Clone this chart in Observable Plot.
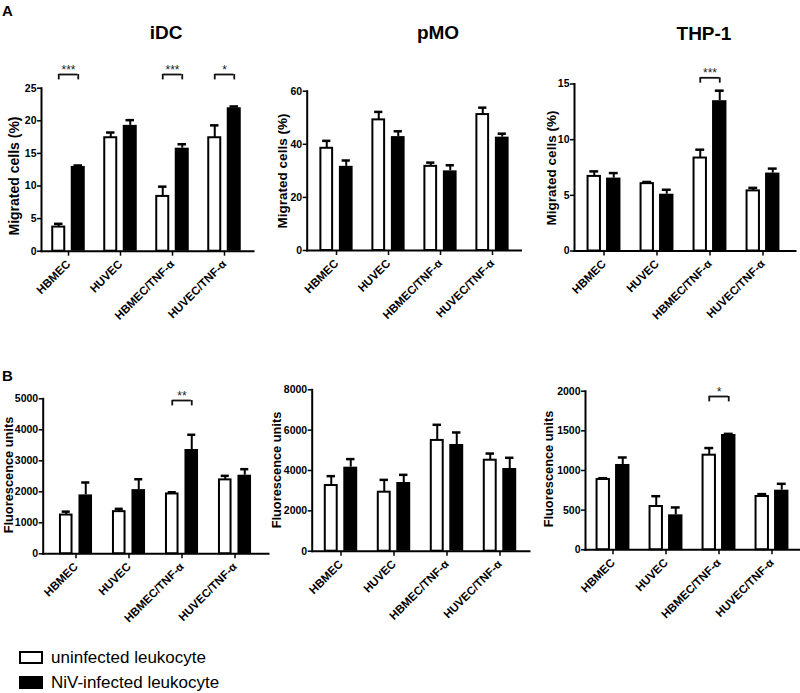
<!DOCTYPE html>
<html><head><meta charset="utf-8">
<script src="https://cdn.jsdelivr.net/npm/d3@7"></script>
<script src="https://cdn.jsdelivr.net/npm/@observablehq/plot@0.6"></script>
<style>
html,body{margin:0;padding:0;background:#fff;overflow:hidden;}
#fig{position:relative;width:800px;height:693px;font-family:"Liberation Sans",Arial,sans-serif;color:#000;}
.abs{position:absolute;white-space:nowrap;line-height:1;}
.center{transform:translate(-50%,-50%);}
.title{font-weight:bold;font-size:19px;}
.letter{font-weight:bold;font-size:15px;}
.ylab{font-weight:bold;transform:translate(-50%,-50%) rotate(-90deg);}
.legend-row{position:absolute;left:19px;display:flex;align-items:center;font-size:17px;line-height:1;}
.swatch{box-sizing:border-box;width:24px;height:13px;border:2px solid #000;margin-right:8px;}
</style></head><body><div id="fig"></div>
<script>
// ---------- data ----------
const categories = ["HBMEC", "HUVEC", "HBMEC/TNF-α", "HUVEC/TNF-α"];
const seriesNames = ["uninfected leukocyte", "NiV-infected leukocyte"];

// A: migrated cells (%)
const iDC_migr_uninf = [3.7, 17.4, 8.4, 17.4];
const iDC_migr_uninfErr = [0.5, 0.8, 1.5, 1.9];
const iDC_migr_niv = [13.0, 19.3, 15.8, 22.0];
const iDC_migr_nivErr = [0.15, 0.8, 0.6, 0.2];
const iDC_migr_ticks = [0, 5, 10, 15, 20, 25];
const iDC_migr_sigCats = ["HBMEC", "HBMEC/TNF-α", "HUVEC/TNF-α"];
const iDC_migr_sigLabels = ["***", "***", "*"];

const pMO_migr_uninf = [38.5, 49.2, 31.7, 51.2];
const pMO_migr_uninfErr = [2.8, 3.0, 1.4, 2.6];
const pMO_migr_niv = [31.7, 42.9, 30.0, 42.7];
const pMO_migr_nivErr = [2.2, 2.0, 2.1, 1.3];
const pMO_migr_ticks = [0, 20, 40, 60];
const pMO_migr_sigCats = [];
const pMO_migr_sigLabels = [];

const THP1_migr_uninf = [6.7, 6.05, 8.35, 5.4];
const THP1_migr_uninfErr = [0.45, 0.15, 0.75, 0.27];
const THP1_migr_niv = [6.55, 5.1, 13.5, 7.0];
const THP1_migr_nivErr = [0.45, 0.4, 0.9, 0.4];
const THP1_migr_ticks = [0, 5, 10, 15];
const THP1_migr_sigCats = ["HBMEC/TNF-α"];
const THP1_migr_sigLabels = ["***"];

// B: fluorescence units
const iDC_fluo_uninf = [1250, 1360, 1930, 2385];
const iDC_fluo_uninfErr = [110, 90, 55, 130];
const iDC_fluo_niv = [1900, 2070, 3365, 2535];
const iDC_fluo_nivErr = [400, 335, 475, 195];
const iDC_fluo_ticks = [0, 1000, 2000, 3000, 4000, 5000];
const iDC_fluo_sigCats = ["HBMEC/TNF-α"];
const iDC_fluo_sigLabels = ["**"];

const pMO_fluo_uninf = [3255, 2925, 5490, 4510];
const pMO_fluo_uninfErr = [465, 610, 775, 330];
const pMO_fluo_niv = [4165, 3405, 5290, 4100];
const pMO_fluo_nivErr = [400, 380, 595, 530];
const pMO_fluo_ticks = [0, 2000, 4000, 6000, 8000];
const pMO_fluo_sigCats = [];
const pMO_fluo_sigLabels = [];

const THP1_fluo_uninf = [887, 546, 1193, 672];
const THP1_fluo_uninfErr = [16, 130, 90, 30];
const THP1_fluo_niv = [1076, 441, 1454, 752];
const THP1_fluo_nivErr = [88, 93, 8, 80];
const THP1_fluo_ticks = [0, 500, 1000, 1500, 2000];
const THP1_fluo_sigCats = ["HBMEC/TNF-α"];
const THP1_fluo_sigLabels = ["*"];

const titles = ["iDC", "pMO", "THP-1"];
const yLabelA = "Migrated cells (%)";
const yLabelB = "Fluorescence units";

// ---------- layout (pixels) ----------
const panels = [
  {u: iDC_migr_uninf, ue: iDC_migr_uninfErr, n: iDC_migr_niv, ne: iDC_migr_nivErr, ticks: iDC_migr_ticks,
   sigCats: iDC_migr_sigCats, sigLabels: iDC_migr_sigLabels, label: yLabelA, labelSize: 14,
   frame: {l: 41, r: 253, t: 87.7, b: 250.7}, inset: [0, 2], svg: {l: 0, r: 256, t: 55, b: 345},
   labelPos: [14, 176], bracketPx: -13.7},
  {u: pMO_migr_uninf, ue: pMO_migr_uninfErr, n: pMO_migr_niv, ne: pMO_migr_nivErr, ticks: pMO_migr_ticks,
   sigCats: pMO_migr_sigCats, sigLabels: pMO_migr_sigLabels, label: yLabelA, labelSize: 13.5,
   frame: {l: 306.7, r: 520.5, t: 90.7, b: 250}, inset: [1.9, 0.8], svg: {l: 262, r: 523, t: 55, b: 345},
   labelPos: [283, 171], bracketPx: -10},
  {u: THP1_migr_uninf, ue: THP1_migr_uninfErr, n: THP1_migr_niv, ne: THP1_migr_nivErr, ticks: THP1_migr_ticks,
   sigCats: THP1_migr_sigCats, sigLabels: THP1_migr_sigLabels, label: yLabelA, labelSize: 13.5,
   frame: {l: 574, r: 795, t: 83.5, b: 250.5}, inset: [2.75, 5.8], svg: {l: 530, r: 798, t: 55, b: 345},
   labelPos: [551.5, 168], bracketPx: -6.2},
  {u: iDC_fluo_uninf, ue: iDC_fluo_uninfErr, n: iDC_fluo_niv, ne: iDC_fluo_nivErr, ticks: iDC_fluo_ticks,
   sigCats: iDC_fluo_sigCats, sigLabels: iDC_fluo_sigLabels, label: yLabelB, labelSize: 12.8,
   frame: {l: 42.7, r: 268, t: 398.3, b: 553.3}, inset: [4.1, 5.5], svg: {l: 0, r: 270, t: 378, b: 632},
   labelPos: [8.5, 475], bracketPx: 1.7},
  {u: pMO_fluo_uninf, ue: pMO_fluo_uninfErr, n: pMO_fluo_niv, ne: pMO_fluo_nivErr, ticks: pMO_fluo_ticks,
   sigCats: pMO_fluo_sigCats, sigLabels: pMO_fluo_sigLabels, label: yLabelB, labelSize: 12.8,
   frame: {l: 311.7, r: 529, t: 389.3, b: 550.7}, inset: [1.5, 1.5], svg: {l: 270, r: 531, t: 378, b: 632},
   labelPos: [276.5, 470], bracketPx: 0},
  {u: THP1_fluo_uninf, ue: THP1_fluo_uninfErr, n: THP1_fluo_niv, ne: THP1_fluo_nivErr, ticks: THP1_fluo_ticks,
   sigCats: THP1_fluo_sigCats, sigLabels: THP1_fluo_sigLabels, label: yLabelB, labelSize: 12.8,
   frame: {l: 585, r: 800, t: 390.7, b: 549.3}, inset: [0.75, 1.8], svg: {l: 535, r: 800, t: 378, b: 632},
   labelPos: [549, 469], bracketPx: 5.3}
];

const fig = document.getElementById("fig");
const FONT = '"Liberation Sans", Arial, sans-serif';

function makePanel(p) {
  const W = p.svg.r - p.svg.l, H = p.svg.b - p.svg.t;
  const yMax = p.ticks[p.ticks.length - 1];
  const step = (p.frame.r - p.frame.l - p.inset[0] - p.inset[1]) / categories.length;
  const c = step / 2;          // band half-width
  const off = 9.75;            // bar centre offset from band centre
  const rows = categories.map((cat, i) => ({
    cat, u: p.u[i], ue: p.u[i] + p.ue[i], n: p.n[i], ne: p.n[i] + p.ne[i]
  }));
  const hFrame = p.frame.b - p.frame.t;
  const perPx = yMax / hFrame;
  const sig = p.sigCats.map((cat, i) => ({
    cat, label: p.sigLabels[i],
    y: yMax - p.bracketPx * perPx,
    y0: yMax - (p.bracketPx + 5.4) * perPx
  }));
  const chart = Plot.plot({
    width: W, height: H,
    marginLeft: p.frame.l - p.svg.l, marginRight: p.svg.r - p.frame.r,
    marginTop: p.frame.t - p.svg.t, marginBottom: p.svg.b - p.frame.b,
    x: {type: "band", domain: categories, padding: 0, insetLeft: p.inset[0], insetRight: p.inset[1]},
    y: {domain: [0, yMax]},
    style: {fontFamily: FONT, fontWeight: "bold", fontSize: "11px", color: "#000", background: "transparent", overflow: "visible"},
    marks: [
      Plot.barY(rows, {x: "cat", y: "u", fill: "white", stroke: "black", strokeWidth: 2, insetLeft: c - 16, insetRight: c + 3.5}),
      Plot.barY(rows, {x: "cat", y: "n", fill: "black", insetLeft: c + 2.5, insetRight: c - 17}),
      Plot.ruleX(rows, {x: "cat", y1: "u", y2: "ue", dx: -off, strokeWidth: 2}),
      Plot.tickY(rows, {x: "cat", y: "ue", dx: -off, insetLeft: c - 4.5, insetRight: c - 4.5, strokeWidth: 2.5}),
      Plot.ruleX(rows, {x: "cat", y1: "n", y2: "ne", dx: off, strokeWidth: 2}),
      Plot.tickY(rows, {x: "cat", y: "ne", dx: off, insetLeft: c - 4.5, insetRight: c - 4.5, strokeWidth: 2.5}),
      // significance brackets
      Plot.tickY(sig, {x: "cat", y: "y", insetLeft: c - off, insetRight: c - off, strokeWidth: 1.8, stroke: "#111"}),
      Plot.ruleX(sig, {x: "cat", y1: "y0", y2: "y", dx: -off, strokeWidth: 1.8, stroke: "#111"}),
      Plot.ruleX(sig, {x: "cat", y1: "y0", y2: "y", dx: off, strokeWidth: 1.8, stroke: "#111"}),
      Plot.text(sig, {x: "cat", y: "y", text: "label", dy: -0.5, lineAnchor: "bottom", fontSize: 12, fontWeight: "normal", fill: "#222"}),
      // axes
      Plot.axisY({ticks: p.ticks, tickFormat: d => String(d), tickSize: 4, tickPadding: 1, label: null, fontSize: 10.5, strokeWidth: 1.5}),
      Plot.axisX({tickSize: 5, tickPadding: 6, tickRotate: -45, label: null, fontSize: 11.5, strokeWidth: 1.5}),
      Plot.frame({anchor: "left", strokeWidth: 2}),
      Plot.frame({anchor: "bottom", strokeWidth: 2})
    ]
  });
  chart.style.position = "absolute";
  chart.style.left = p.svg.l + "px";
  chart.style.top = p.svg.t + "px";
  chart.style.maxWidth = "none";
  fig.appendChild(chart);

  const lab = document.createElement("div");
  lab.className = "abs ylab";
  lab.style.left = p.labelPos[0] + "px";
  lab.style.top = p.labelPos[1] + "px";
  lab.style.fontSize = p.labelSize + "px";
  lab.textContent = p.label;
  fig.appendChild(lab);
}

panels.forEach(makePanel);

function addText(text, cls, x, y) {
  const d = document.createElement("div");
  d.className = "abs center " + cls;
  d.style.left = x + "px";
  d.style.top = y + "px";
  d.textContent = text;
  fig.appendChild(d);
}
addText(titles[0], "title", 166, 31.5);
addText(titles[1], "title", 438, 31.5);
addText(titles[2], "title", 704, 32.5);
addText("A", "letter", 7.5, 10);
addText("B", "letter", 7.5, 375);

// legend
[[seriesNames[0], "#fff", 651], [seriesNames[1], "#000", 675.5]].forEach(([name, fill, top]) => {
  const row = document.createElement("div");
  row.className = "legend-row";
  row.style.top = top + "px";
  row.style.height = "13px";
  const sw = document.createElement("div");
  sw.className = "swatch";
  sw.style.background = fill;
  const t = document.createElement("span");
  t.textContent = name;
  row.appendChild(sw);
  row.appendChild(t);
  fig.appendChild(row);
});
</script></body></html>
